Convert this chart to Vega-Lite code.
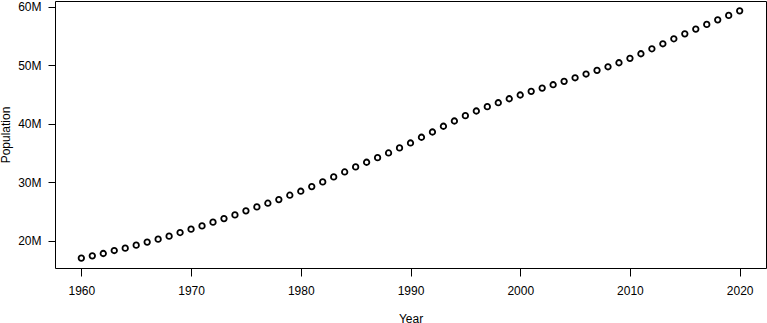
{
  "$schema": "https://vega.github.io/schema/vega-lite/v6.json",
  "width": 711,
  "height": 267,
  "autosize": "none",
  "padding": {"left": 55, "top": 1, "right": 1, "bottom": 55},
  "background": "white",
  "config": {
    "view": {"stroke": "#000000", "strokeWidth": 1},
    "font": "Liberation Sans"
  },
  "data": {
    "values": [
      {"year": 1960, "population": 17000000},
      {"year": 1961, "population": 17380000},
      {"year": 1962, "population": 17780000},
      {"year": 1963, "population": 18290000},
      {"year": 1964, "population": 18700000},
      {"year": 1965, "population": 19210000},
      {"year": 1966, "population": 19730000},
      {"year": 1967, "population": 20240000},
      {"year": 1968, "population": 20750000},
      {"year": 1969, "population": 21370000},
      {"year": 1970, "population": 21950000},
      {"year": 1971, "population": 22510000},
      {"year": 1972, "population": 23150000},
      {"year": 1973, "population": 23760000},
      {"year": 1974, "population": 24390000},
      {"year": 1975, "population": 25080000},
      {"year": 1976, "population": 25760000},
      {"year": 1977, "population": 26390000},
      {"year": 1978, "population": 27010000},
      {"year": 1979, "population": 27760000},
      {"year": 1980, "population": 28440000},
      {"year": 1981, "population": 29230000},
      {"year": 1982, "population": 30030000},
      {"year": 1983, "population": 30890000},
      {"year": 1984, "population": 31740000},
      {"year": 1985, "population": 32600000},
      {"year": 1986, "population": 33400000},
      {"year": 1987, "population": 34190000},
      {"year": 1988, "population": 34990000},
      {"year": 1989, "population": 35850000},
      {"year": 1990, "population": 36700000},
      {"year": 1991, "population": 37680000},
      {"year": 1992, "population": 38580000},
      {"year": 1993, "population": 39560000},
      {"year": 1994, "population": 40460000},
      {"year": 1995, "population": 41370000},
      {"year": 1996, "population": 42170000},
      {"year": 1997, "population": 42910000},
      {"year": 1998, "population": 43590000},
      {"year": 1999, "population": 44270000},
      {"year": 2000, "population": 44910000},
      {"year": 2001, "population": 45540000},
      {"year": 2002, "population": 46100000},
      {"year": 2003, "population": 46670000},
      {"year": 2004, "population": 47250000},
      {"year": 2005, "population": 47860000},
      {"year": 2006, "population": 48500000},
      {"year": 2007, "population": 49130000},
      {"year": 2008, "population": 49740000},
      {"year": 2009, "population": 50430000},
      {"year": 2010, "population": 51180000},
      {"year": 2011, "population": 51970000},
      {"year": 2012, "population": 52820000},
      {"year": 2013, "population": 53680000},
      {"year": 2014, "population": 54530000},
      {"year": 2015, "population": 55380000},
      {"year": 2016, "population": 56190000},
      {"year": 2017, "population": 56990000},
      {"year": 2018, "population": 57780000},
      {"year": 2019, "population": 58530000},
      {"year": 2020, "population": 59320000}
    ]
  },
  "mark": {"type": "point", "shape": "circle", "filled": false, "stroke": "#000000", "strokeWidth": 1.8, "size": 30, "opacity": 1},
  "encoding": {
    "x": {
      "field": "year",
      "type": "quantitative",
      "scale": {"domain": [1957.6, 2022.4], "nice": false, "zero": false},
      "axis": {
        "values": [1960, 1970, 1980, 1990, 2000, 2010, 2020],
        "format": "d",
        "title": "Year",
        "domain": false,
        "grid": false,
        "ticks": true,
        "tickColor": "#000000",
        "tickSize": 8,
        "tickWidth": 1,
        "labelFont": "Liberation Sans",
        "labelFontSize": 12,
        "labelColor": "#000000",
        "labelPadding": 9,
        "labelFlush": false,
        "titleFont": "Liberation Sans",
        "titleFontSize": 12,
        "titleFontWeight": "normal",
        "titleColor": "#000000",
        "titleBaseline": "middle",
        "titleY": 50
      }
    },
    "y": {
      "field": "population",
      "type": "quantitative",
      "scale": {"domain": [15300000, 61000000], "nice": false, "zero": false},
      "axis": {
        "values": [20000000, 30000000, 40000000, 50000000, 60000000],
        "labelExpr": "(datum.value / 1000000) + 'M'",
        "title": "Population",
        "domain": false,
        "grid": false,
        "ticks": true,
        "tickColor": "#000000",
        "tickSize": 7,
        "tickWidth": 1,
        "labelFont": "Liberation Sans",
        "labelFontSize": 12,
        "labelColor": "#000000",
        "labelPadding": 7,
        "labelFlush": false,
        "labelBaseline": "middle",
        "titleFont": "Liberation Sans",
        "titleFontSize": 12,
        "titleFontWeight": "normal",
        "titleColor": "#000000",
        "titleAngle": -90,
        "titleAlign": "center",
        "titleBaseline": "middle",
        "titleX": -50,
        "titleY": 133.5
      }
    }
  }
}
